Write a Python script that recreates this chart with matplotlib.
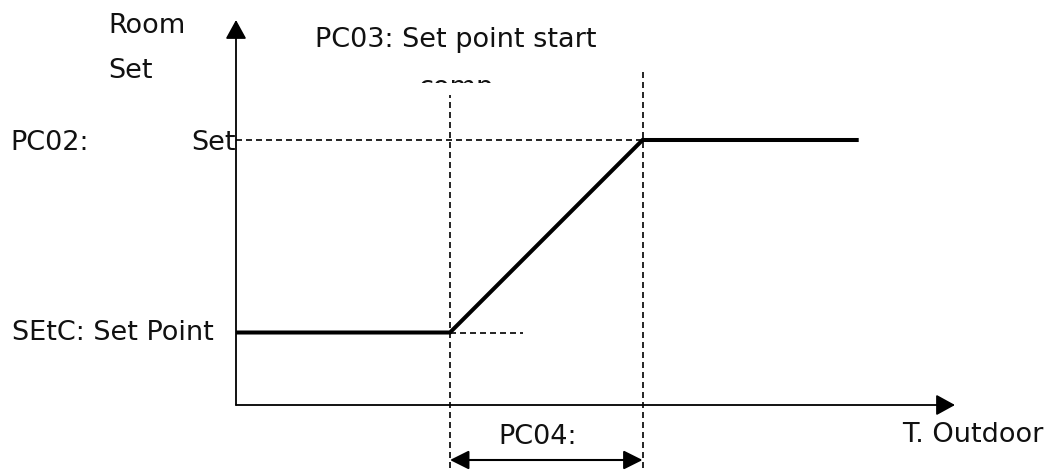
import matplotlib
matplotlib.use("Agg")
import matplotlib.pyplot as plt
from matplotlib.transforms import Bbox

# ---- schematic data (outdoor temperature vs. room set point) ----
outdoor = [0, 10, 19, 29.1]        # T. Outdoor positions of the curve corners
room_set = [2.9, 2.9, 10.6, 10.6]  # room set point: SEtC low, PC02 high
comp_start = 10                    # PC03: set point start comp
comp_end = 19                      # end of PC04 band
setc_guide_end = 13.4
vline_tops = [12.4, 13.5]
vline_bottom = -2.5
band_arrow_y = -2.2

W, H = 1050, 473
fig = plt.figure(figsize=(W / 100, H / 100), dpi=100)
ax = fig.add_axes([236 / W, (H - 405) / H, 719 / W, 385 / H])
ax.set_xlim(0, 33.6)
ax.set_ylim(0, 15.4)
ax.axis("off")

# axes with arrowheads
arrow_kw = dict(arrowstyle="-|>,head_length=0.4,head_width=0.22",
                color="black", lw=1.3, mutation_scale=29,
                shrinkA=0, shrinkB=0)
ax.annotate("", xy=(0, 1), xytext=(0, 0), xycoords="axes fraction",
            arrowprops=arrow_kw, annotation_clip=False)
ax.annotate("", xy=(1, 0), xytext=(0, 0), xycoords="axes fraction",
            arrowprops=arrow_kw, annotation_clip=False)

# dashed guides
dash = dict(color="black", lw=1.2, ls=(0, (3.6, 2.4)), clip_on=False)
ax.plot([comp_start, comp_start], [vline_bottom, vline_tops[0]], **dash)
ax.plot([comp_end, comp_end], [vline_bottom, vline_tops[1]], **dash)
ax.plot([0, comp_end], [room_set[-1], room_set[-1]], **dash)
ax.plot([comp_start, setc_guide_end], [room_set[0], room_set[0]], **dash)

# the set-point curve
ax.plot(outdoor, room_set, color="black", lw=2.9, solid_joinstyle="miter",
        solid_capstyle="butt", clip_on=False)

# PC04 double arrow
ax.annotate("", xy=(comp_end, band_arrow_y), xytext=(comp_start, band_arrow_y),
            arrowprops=dict(arrowstyle="<|-|>,head_length=0.4,head_width=0.2",
                            color="black", lw=1.5,
                            mutation_scale=29, shrinkA=0, shrinkB=0),
            annotation_clip=False)

fs = 19.5


def label(x, y, s, ha="left", va="center"):
    return fig.text(x / W, 1 - y / H, s, fontsize=fs, ha=ha, va=va,
                    family="DejaVu Sans", color="#111111")


label(108, 26, "Room")
label(108, 71, "Set")
label(10, 143, "PC02:")
label(191, 143, "Set")
label(315, 40, "PC03: Set point start")
label(12, 333, "SEtC: Set Point")
label(498, 437, "PC04:")
label(902, 435, "T. Outdoor")

t = label(418, 95, "comp", va="baseline")
t.set_clip_box(Bbox.from_extents(0, H - 83, W, H))
t.set_clip_on(True)

fig.savefig("out.png", dpi=100)
